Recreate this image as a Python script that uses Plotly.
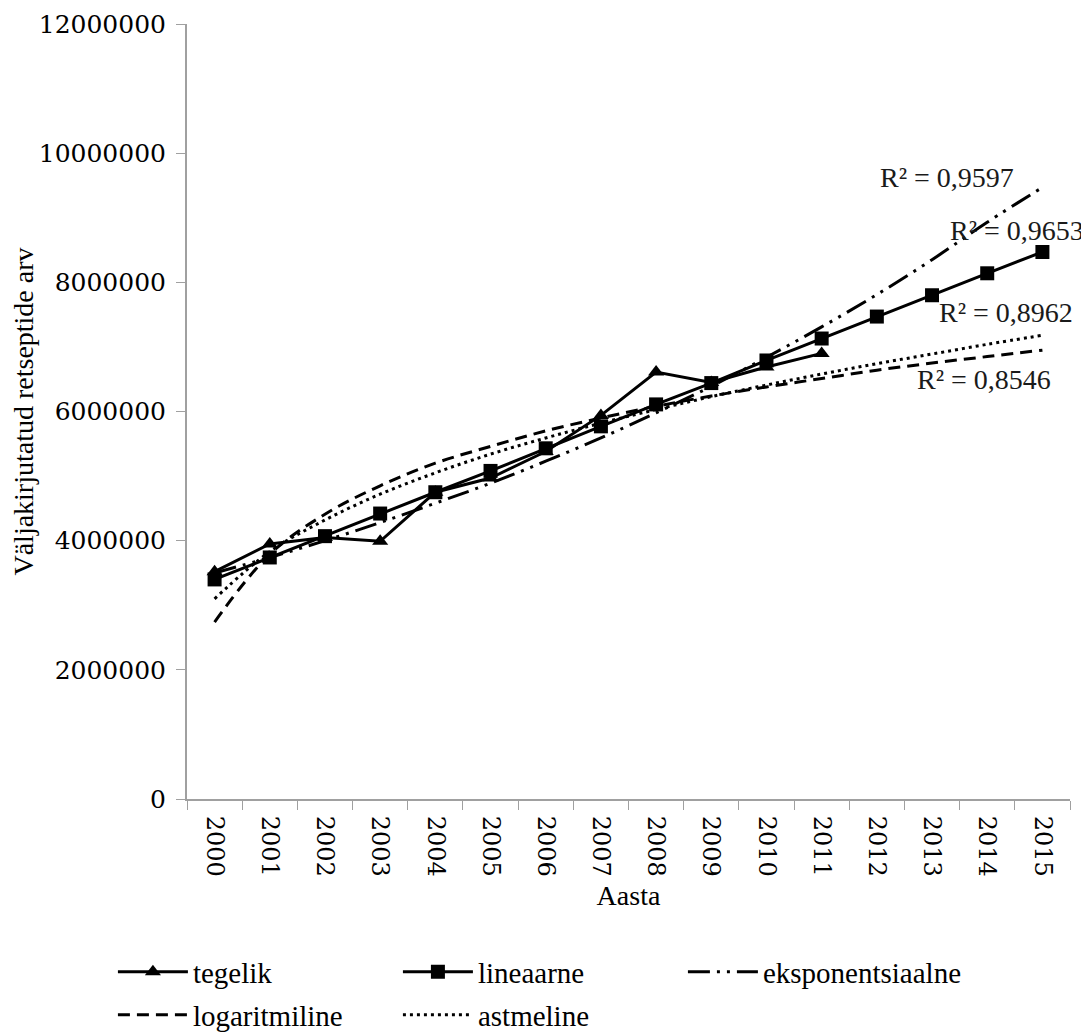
import plotly.graph_objects as go

years = [str(y) for y in range(2000, 2016)]
years_actual = years[:12]

tegelik = [3520000, 3950000, 4050000, 3990000, 4750000, 4970000, 5380000, 5940000,
           6610000, 6450000, 6690000, 6900000]
lineaarne = [3400000, 3740000, 4070000, 4420000, 4750000, 5080000, 5430000, 5770000,
             6110000, 6440000, 6790000, 7130000, 7470000, 7800000, 8140000, 8470000]
eksponentsiaalne = [3500000, 3740000, 4000000, 4280000, 4580000, 4890000, 5230000, 5590000,
                    5980000, 6390000, 6840000, 7310000, 7810000, 8350000, 8930000, 9470000]
logaritmiline = [2740000, 3790000, 4410000, 4850000, 5200000, 5460000, 5700000, 5900000,
                 6080000, 6240000, 6380000, 6510000, 6640000, 6750000, 6850000, 6950000]
astmeline = [3100000, 3830000, 4320000, 4720000, 5050000, 5340000, 5590000, 5820000,
             6030000, 6230000, 6410000, 6580000, 6740000, 6890000, 7040000, 7180000]

r2_labels = ["R² = 0,9597", "R² = 0,9653", "R² = 0,8962", "R² = 0,8546"]
y_ticks = [0, 2000000, 4000000, 6000000, 8000000, 10000000, 12000000]

SERIF = "Liberation Serif"
fig = go.Figure()

fig.add_trace(go.Scatter(x=years, y=eksponentsiaalne, name="eksponentsiaalne", mode="lines",
                         line=dict(color="black", width=3, dash="22px,7px,3px,7px,3px,7px", shape="spline"),
                         legend="legend", legendrank=3))
fig.add_trace(go.Scatter(x=years, y=logaritmiline, name="logaritmiline", mode="lines",
                         line=dict(color="black", width=3, dash="12px,7px", shape="spline"),
                         legend="legend2", legendrank=4))
fig.add_trace(go.Scatter(x=years, y=astmeline, name="astmeline", mode="lines",
                         line=dict(color="black", width=3, dash="3px,4px", shape="spline"),
                         legend="legend2", legendrank=5))
fig.add_trace(go.Scatter(x=years, y=lineaarne, name="lineaarne", mode="lines+markers",
                         line=dict(color="black", width=3),
                         marker=dict(symbol="square", size=14, color="black"),
                         legend="legend", legendrank=2))
fig.add_trace(go.Scatter(x=years_actual, y=tegelik, name="tegelik", mode="lines+markers",
                         line=dict(color="black", width=3),
                         marker=dict(symbol="triangle-up", size=14, color="black"),
                         legend="legend", legendrank=1))

ann_pos = [(12.02, 9620000), (13.29, 8800000), (13.09, 7530000), (12.69, 6500000)]
for txt, (ax_, ay_) in zip(r2_labels, ann_pos):
    fig.add_annotation(x=ax_, y=ay_, xref="x", yref="y", text=txt, showarrow=False,
                       xanchor="left", yanchor="middle",
                       font=dict(family=SERIF, size=28, color="#1a1a1a"))

axis_gray = "#a0a0a0"
fig.update_xaxes(type="category", range=[-0.5, 15.5], showline=True, linecolor=axis_gray, linewidth=2,
                 ticks="outside", tickson="boundaries", ticklen=9, tickcolor=axis_gray, tickwidth=1,
                 tickangle=90, tickfont=dict(family="DejaVu Serif", size=24, color="black"),
                 ticklabelstandoff=10,
                 showgrid=False, zeroline=False,
                 title=dict(text="Aasta", font=dict(family=SERIF, size=28, color="black"), standoff=10))
fig.update_yaxes(range=[0, 12000000], tickvals=y_ticks, tickformat="d", showline=True,
                 linecolor=axis_gray, linewidth=2, ticks="outside", ticklen=9, tickcolor=axis_gray,
                 tickfont=dict(family="DejaVu Serif", size=25, color="black"), ticklabelstandoff=5,
                 showgrid=False, zeroline=False,
                 title=dict(text="Väljakirjutatud retseptide arv", font=dict(family=SERIF, size=28, color="black"),
                            standoff=8))

leg_common = dict(orientation="h", xanchor="left", yanchor="middle", itemwidth=70,
                  entrywidth=200, entrywidthmode="pixels", bgcolor="rgba(0,0,0,0)",
                  font=dict(family=SERIF, size=29, color="black"), tracegroupgap=0)
fig.update_layout(
    width=1081, height=1027,
    margin=dict(l=179, r=19, t=16, b=236, autoexpand=False),
    plot_bgcolor="white", paper_bgcolor="white",
    showlegend=True,
    legend=dict(x=-0.0839, y=-0.2232, **leg_common),
    legend2=dict(x=-0.0839, y=-0.2787, **leg_common),
)

fig.write_html("out.html")
